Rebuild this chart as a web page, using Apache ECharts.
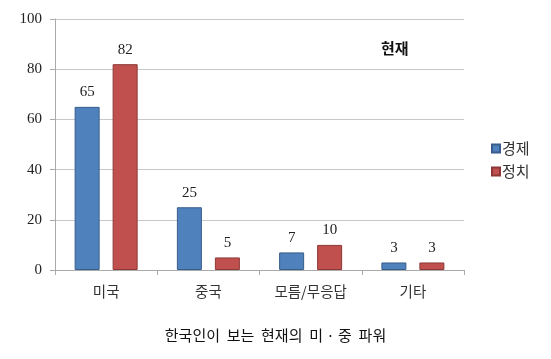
<!DOCTYPE html>
<html><head><meta charset="utf-8">
<script src="https://cdn.jsdelivr.net/npm/echarts@6/dist/echarts.min.js"></script>
<style>html,body{margin:0;padding:0;background:#fff}#c{width:551px;height:359px}</style>
</head><body><div id="c"></div>
<script>
const categories = ['미국', '중국', '모름/무응답', '기타'];
const economy = [65, 25, 7, 3];
const politics = [82, 5, 10, 3];
const seriesNames = ['경제', '정치'];
const yTicks = [0, 20, 40, 60, 80, 100];

const chart = echarts.init(document.getElementById('c'));
const labelStyle = {show: true, position: 'top', distance: 7, fontFamily: 'Liberation Serif, DejaVu Serif, serif', fontSize: 15, color: '#222'};
chart.setOption({
  animation: false,
  title: [
    {text: '현재', left: 376, top: 36, textStyle: {fontFamily: 'Noto Sans CJK KR', fontWeight: 'bold', fontSize: 15, color: '#111'}},
    {text: '한국인이  보는  현재의  미 · 중  파워', left: 'center', top: 323, textStyle: {fontFamily: 'Noto Sans CJK KR', fontWeight: 'normal', fontSize: 15, color: '#111'}}
  ],
  legend: {
    orient: 'vertical', left: 486, top: 136, itemWidth: 8, itemHeight: 8, itemGap: 8,
    icon: 'rect',
    textStyle: {fontFamily: 'Noto Sans CJK KR', fontSize: 15, color: '#333', padding: [0, 0, 0, -3]},
    data: seriesNames
  },
  grid: {left: 55, right: 87, top: 19, bottom: 89, containLabel: false},
  xAxis: {
    type: 'category', data: categories,
    axisLine: {lineStyle: {color: '#aaa'}},
    axisTick: {show: true, length: 5, lineStyle: {color: '#aaa'}},
    axisLabel: {fontFamily: 'Noto Sans CJK KR', fontSize: 14.5, color: '#333', margin: 14}
  },
  yAxis: {
    type: 'value', min: 0, max: 100, interval: 20,
    axisLine: {show: true, lineStyle: {color: '#aaa'}},
    axisTick: {show: true, length: 5, lineStyle: {color: '#aaa'}},
    splitLine: {lineStyle: {color: '#c8c8c8'}},
    axisLabel: {fontFamily: 'Liberation Serif, DejaVu Serif, serif', fontSize: 15, color: '#222', margin: 13,
      formatter: v => yTicks.includes(v) ? String(v) : ''}
  },
  series: [
    {name: seriesNames[0], type: 'bar', data: economy, barWidth: 25, barGap: '52%', barCategoryGap: '38%',
     itemStyle: {color: '#4F81BD', borderColor: '#385D8A', borderWidth: 1}, label: labelStyle},
    {name: seriesNames[1], type: 'bar', data: politics, barWidth: 25,
     itemStyle: {color: '#C0504D', borderColor: '#8C3836', borderWidth: 1}, label: labelStyle}
  ]
});
</script></body></html>
